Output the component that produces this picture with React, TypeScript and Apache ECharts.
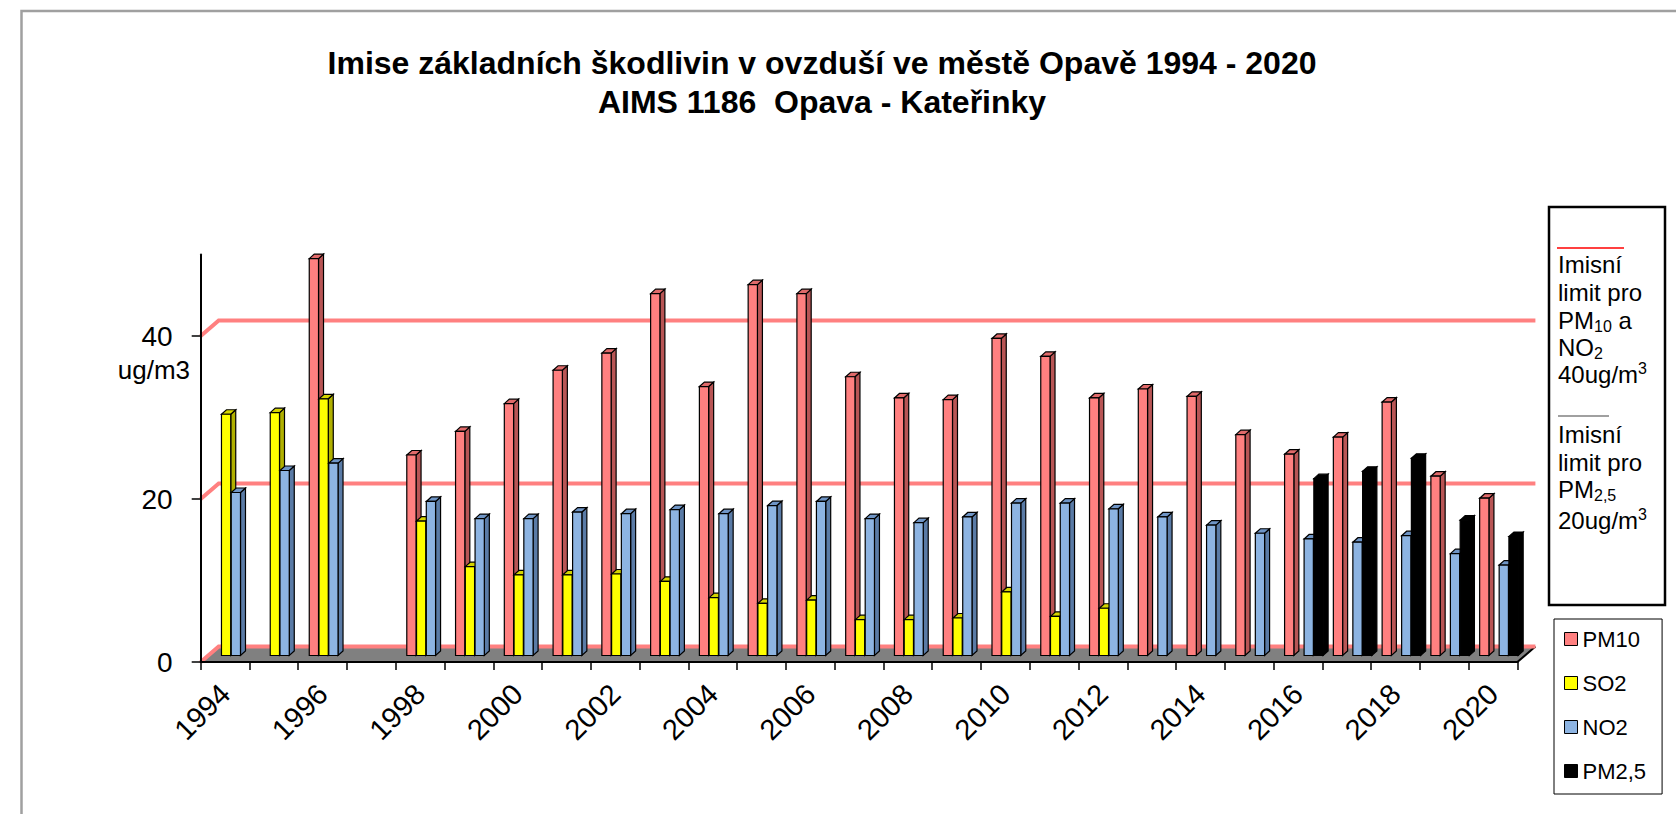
import React, { useEffect, useRef } from 'react';
import * as echarts from 'echarts';

// ---------- data ----------
const years = [
  '1994', '1995', '1996', '1997', '1998', '1999', '2000', '2001', '2002', '2003',
  '2004', '2005', '2006', '2007', '2008', '2009', '2010', '2011', '2012', '2013',
  '2014', '2015', '2016', '2017', '2018', '2019', '2020',
];
const pm10 = [
  null, null, 48.7, null, 24.6, 27.5, 30.9, 35.0, 37.1, 44.4,
  33.0, 45.5, 44.4, 34.2, 31.6, 31.4, 38.9, 36.7, 31.6, 32.7,
  31.8, 27.1, 24.7, 26.8, 31.1, 22.0, 19.3,
];
const so2 = [
  29.6, 29.8, 31.5, null, 16.5, 10.9, 9.9, 9.9, 10.0, 9.1,
  7.1, 6.4, 6.8, 4.4, 4.4, 4.6, 7.8, 4.8, 5.8, null,
  null, null, null, null, null, null, null,
];
const no2 = [
  20.0, 22.7, 23.6, null, 18.9, 16.8, 16.8, 17.6, 17.4, 17.9,
  17.4, 18.4, 18.9, 16.8, 16.3, 17.0, 18.7, 18.7, 18.0, 17.0,
  16.0, 15.0, 14.3, 13.9, 14.7, 12.5, 11.1,
];
const pm25 = [
  null, null, null, null, null, null, null, null, null, null,
  null, null, null, null, null, null, null, null, null, null,
  null, null, 21.7, 22.6, 24.2, 16.6, 14.6,
];
const limitLevels = [0, 20, 40];
const yTickValues = [0, 20, 40];
const seriesNames = ['PM10', 'SO2', 'NO2', 'PM2,5'];

// ---------- styles ----------
const FONT = '"Liberation Sans", Arial, sans-serif';
const WALL_DX = 18;
const WALL_DY = 15.5;
const BAR_SHIFT_Y = 6.5;
const BAR_DEPTH_X = 5;
const BAR_DEPTH_Y = 4.5;
const SLOT_START = 0.226;
const SLOT_STEP = 0.2;
const FACE_W = 0.19;

const palettes = [
  { front: '#FF8080', side: '#B85555', top: '#E06A6A' },
  { front: '#FFFF00', side: '#B0B000', top: '#D4D400' },
  { front: '#8DB4E2', side: '#5A7BA6', top: '#6F95C6' },
  { front: '#000000', side: '#000000', top: '#000000' },
];

function toData(arr: (number | null)[]) {
  const out: number[][] = [];
  arr.forEach((v, i) => {
    if (v !== null && v !== undefined) out.push([i, v]);
  });
  return out;
}

function barRenderer(slot: number) {
  const pal = palettes[slot];
  return (params: any, api: any) => {
    const i = api.value(0);
    const v = api.value(1);
    const base = api.coord([i, 0]);
    const tip = api.coord([i, v]);
    const bw = api.size([1, 0])[0];
    const x0 = base[0] - bw / 2 + bw * SLOT_START + slot * bw * SLOT_STEP;
    const w = bw * FACE_W;
    const yb = base[1] - BAR_SHIFT_Y;
    const yt = tip[1] - BAR_SHIFT_Y;
    const stroke = '#000';
    return {
      type: 'group',
      children: [
        {
          type: 'polygon',
          shape: {
            points: [
              [x0 + w, yt],
              [x0 + w + BAR_DEPTH_X, yt - BAR_DEPTH_Y],
              [x0 + w + BAR_DEPTH_X, yb - BAR_DEPTH_Y],
              [x0 + w, yb],
            ],
          },
          style: { fill: pal.side, stroke, lineWidth: 1.2 },
        },
        {
          type: 'polygon',
          shape: {
            points: [
              [x0, yt],
              [x0 + BAR_DEPTH_X, yt - BAR_DEPTH_Y],
              [x0 + w + BAR_DEPTH_X, yt - BAR_DEPTH_Y],
              [x0 + w, yt],
            ],
          },
          style: { fill: pal.top, stroke, lineWidth: 1.2 },
        },
        {
          type: 'rect',
          shape: { x: x0, y: yt, width: w, height: yb - yt },
          style: { fill: pal.front, stroke, lineWidth: 1.2 },
        },
      ],
    };
  };
}

function wallRenderer(params: any, api: any) {
  const v = api.value(1);
  const p = api.coord([0, v]);
  const pe = api.coord([years.length - 1, v]);
  const bw = api.size([1, 0])[0];
  const xs = p[0] - bw / 2;
  const xe = pe[0] + bw / 2;
  const y = p[1];
  const children: any[] = [];
  if (v === 0) {
    children.push({
      type: 'polygon',
      shape: {
        points: [
          [xs, y],
          [xs + WALL_DX, y - WALL_DY],
          [xe + WALL_DX, y - WALL_DY],
          [xe, y],
        ],
      },
      style: { fill: '#808080' },
    });
    children.push({
      type: 'line',
      shape: { x1: xe, y1: y, x2: xe + WALL_DX, y2: y - WALL_DY },
      style: { stroke: '#000', lineWidth: 2 },
    });
  }
  children.push({
    type: 'polyline',
    shape: {
      points: [
        [xs, y],
        [xs + WALL_DX, y - WALL_DY],
        [xe + WALL_DX, y - WALL_DY],
      ],
    },
    style: { stroke: '#FF8080', lineWidth: 4, fill: 'none' },
  });
  return { type: 'group', children };
}

const legendTextBase = { fontSize: 24, fontFamily: FONT, fill: '#000' };
const richStyles = {
  a: { fontSize: 24, fontFamily: FONT, color: '#000', lineHeight: 28 },
  s: { fontSize: 16, fontFamily: FONT, color: '#000', lineHeight: 16, verticalAlign: 'bottom' },
  p: { fontSize: 16, fontFamily: FONT, color: '#000', lineHeight: 16, verticalAlign: 'top' },
};

const limitLines = [
  { text: '{a|Imisní}', y: 264 },
  { text: '{a|limit pro}', y: 292 },
  { text: '{a|PM}{s|10}{a| a}', y: 320 },
  { text: '{a|NO}{s|2}', y: 347 },
  { text: '{a|40ug/m}{p|3}', y: 374 },
  { text: '{a|Imisní}', y: 434 },
  { text: '{a|limit pro}', y: 462 },
  { text: '{a|PM}{s|2,5}', y: 489 },
  { text: '{a|20ug/m}{p|3}', y: 520 },
];

export default function App() {
  const ref = useRef<HTMLDivElement>(null);
  useEffect(() => {
    if (!ref.current) return;
    const chart = echarts.init(ref.current, undefined, { renderer: 'svg' });
    const barSeries = [pm10, so2, no2, pm25].map((arr, k) => ({
      type: 'custom',
      name: seriesNames[k],
      renderItem: barRenderer(k),
      data: toData(arr),
      encode: { x: 0, y: 1 },
      itemStyle: { color: palettes[k].front, borderColor: '#000', borderWidth: 1 },
      z: 3,
      clip: false,
    }));
    const option: any = {
      animation: false,
      backgroundColor: '#fff',
      grid: {
        left: 200.7,
        top: 254.5,
        width: 1316.7,
        height: 407.5,
        outerBoundsMode: 'none',
      },
      xAxis: {
        type: 'category',
        data: years,
        boundaryGap: true,
        z: 5,
        axisLine: { show: true, lineStyle: { color: '#000', width: 2 } },
        axisTick: { show: true, interval: 0, length: 8, lineStyle: { color: '#000', width: 1.5 } },
        axisLabel: {
          interval: 1,
          rotate: 45,
          margin: 27,
          fontSize: 29,
          fontFamily: FONT,
          color: '#000',
        },
        splitLine: { show: false },
      },
      yAxis: {
        type: 'value',
        min: 0,
        max: 50,
        interval: 10,
        z: 5,
        axisLine: { show: true, lineStyle: { color: '#000', width: 2 } },
        axisTick: { show: true, length: 9, customValues: yTickValues, lineStyle: { color: '#000', width: 1.5 } },
        axisLabel: {
          customValues: yTickValues,
          margin: 28,
          fontSize: 28,
          fontFamily: FONT,
          color: '#000',
        },
        splitLine: { show: false },
      },
      legend: {
        data: seriesNames.map((n) => ({ name: n, icon: 'rect' })),
        orient: 'vertical',
        left: 1554,
        top: 619,
        itemWidth: 13,
        itemHeight: 13,
        itemGap: 22,
        padding: [9, 16, 12, 10],
        borderColor: '#000',
        borderWidth: 1,
        selectedMode: false,
        textStyle: { fontSize: 22, fontFamily: FONT, color: '#000' },
        itemStyle: { borderColor: '#000', borderWidth: 1 },
      },
      series: [
        {
          type: 'custom',
          name: 'walls',
          renderItem: wallRenderer,
          data: limitLevels.map((v) => [0, v]),
          encode: { x: 0, y: 1 },
          z: 1,
          clip: false,
          silent: true,
        },
        ...barSeries,
      ],
      graphic: [
        {
          type: 'polyline',
          shape: { points: [[21.5, 814], [21.5, 11], [1676, 11]] },
          style: { stroke: '#A0A0A0', lineWidth: 2.5, fill: 'none' },
          silent: true,
        },
        {
          type: 'text',
          x: 822,
          y: 63,
          style: {
            text: 'Imise základních škodlivin v ovzduší ve městě Opavě 1994 - 2020',
            fontSize: 32,
            fontWeight: 'bold',
            fontFamily: FONT,
            fill: '#000',
            align: 'center',
            verticalAlign: 'middle',
          },
        },
        {
          type: 'text',
          x: 822,
          y: 102,
          style: {
            text: 'AIMS 1186  Opava - Kateřinky',
            fontSize: 32,
            fontWeight: 'bold',
            fontFamily: FONT,
            fill: '#000',
            align: 'center',
            verticalAlign: 'middle',
          },
        },
        {
          type: 'text',
          x: 190,
          y: 370,
          style: {
            text: 'ug/m3',
            fontSize: 26,
            fontFamily: FONT,
            fill: '#000',
            align: 'right',
            verticalAlign: 'middle',
          },
        },
        {
          type: 'rect',
          shape: { x: 1549, y: 207, width: 116, height: 398 },
          style: { fill: '#fff', stroke: '#000', lineWidth: 2.5 },
        },
        {
          type: 'line',
          shape: { x1: 1557, y1: 248, x2: 1624, y2: 248 },
          style: { stroke: '#FF4040', lineWidth: 2 },
        },
        {
          type: 'line',
          shape: { x1: 1558, y1: 416, x2: 1609, y2: 416 },
          style: { stroke: '#A0A0A0', lineWidth: 2 },
        },
        ...limitLines.map((l) => ({
          type: 'text',
          x: 1558,
          y: l.y,
          style: {
            ...legendTextBase,
            text: l.text,
            rich: richStyles,
            align: 'left',
            verticalAlign: 'middle',
          },
        })),
      ],
    };
    chart.setOption(option);
    return () => chart.dispose();
  }, []);
  return (
    <div
      ref={ref}
      style={{ position: 'fixed', left: 0, top: 0, width: 1676, height: 814, background: '#fff' }}
    />
  );
}
